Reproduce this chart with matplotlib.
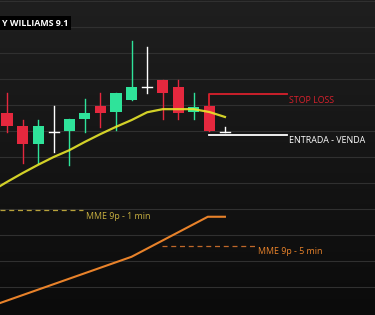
import numpy as np
import matplotlib as mpl
mpl.use('agg')
import matplotlib.pyplot as plt

# candles: open, high, low, close (price units), open == close -> doji
opens  = [133.5, 131.0, 127.5, 129.8, 130.0, 132.3, 134.8, 133.6, 136.0, 138.5, 139.8, 138.5, 133.6, 134.8, 129.8]
highs  = [137.3, 132.1, 132.1, 134.8, 132.3, 136.2, 137.3, 137.3, 147.3, 146.2, 139.8, 139.8, 137.3, 134.8, 130.8]
lows   = [129.8, 123.9, 123.9, 126.0, 123.5, 129.8, 130.8, 130.2, 136.0, 137.3, 132.3, 132.3, 132.3, 130.0, 129.8]
closes = [131.0, 127.5, 131.0, 129.8, 132.3, 133.5, 133.5, 137.3, 138.5, 138.5, 137.3, 133.5, 134.6, 130.0, 129.8]

# MME 9p - 1 min (yellow)
mme1_x = [-0.45, 0, 1, 2, 3, 4, 5, 6, 7, 8, 9, 10, 11, 12, 13, 14]
mme1_y = [119.4, 120.2, 121.9, 123.5, 125.0, 126.3, 127.9, 129.4, 130.8, 132.1, 133.6, 134.2, 134.2, 134.2, 133.65, 132.7]
# MME 9p - 5 min (orange)
mme5_x = [-0.45, 8.0, 12.9, 14.0]
mme5_y = [96.9, 105.8, 113.5, 113.5]

stop_loss = 137.1
entrada = 129.2

GREEN = '#2fe39a'
RED = '#e5283e'
YEL = '#e8e62a'
ORG = '#e8822a'

fig = plt.figure(figsize=(3.75, 3.15), dpi=100)
ax = fig.add_axes([0, 0, 1, 1])
ax.set_xlim(-0.45, 23.64)
ax.set_ylim(94.6, 155.2)
ax.axis('off')

# background gradient
grad = np.linspace(0, 1, 256).reshape(-1, 1)
ax.imshow(grad, extent=[0, 1, 0, 1], transform=ax.transAxes, aspect='auto',
          cmap=mpl.colors.LinearSegmentedColormap.from_list('bg', ['#0b0b0b', '#1f1f1f']),
          origin='lower', zorder=0)

for g in np.arange(100, 156, 5):
    ax.axhline(g, color='#303030', lw=0.8, zorder=1)

for i, (o, h, l, c) in enumerate(zip(opens, highs, lows, closes)):
    if o == c:
        col = 'white'
        ax.plot([i, i], [l, h], color=col, lw=1.0, zorder=3)
        ax.plot([i - 0.32, i + 0.32], [o, o], color=col, lw=1.0, zorder=3)
        continue
    col = GREEN if c > o else RED
    ax.plot([i, i], [l, h], color=col, lw=1.0, zorder=3)
    ax.bar(i, abs(c - o), bottom=min(o, c), width=0.72, color=col, zorder=3)

ax.plot(mme1_x, mme1_y, color=YEL, lw=1.6, zorder=4, alpha=0.9)
ax.plot(mme5_x, mme5_y, color=ORG, lw=1.5, zorder=4)

# legend-like dashed markers
ax.plot([-0.45, 4.9], [114.8, 114.8], color='#b8a23a', lw=0.9, ls=(0, (4, 3)), zorder=2)
ax.text(5.1, 113.6, 'MME 9p - 1 min', color='#c8b040', fontsize=6.4,
        family='Open Sans', va='center', ha='left')
ax.plot([9.95, 16.05], [107.9, 107.9], color='#c0682a', lw=0.9, ls=(0, (4, 3)), zorder=2)
ax.text(16.15, 106.9, 'MME 9p - 5 min', color=ORG, fontsize=6.4,
        family='Open Sans', va='center', ha='left')

# stop loss / entrada
ax.plot([13, 13, 17.98], [opens[13], stop_loss, stop_loss], color='#d8202c', lw=1.3, zorder=4)
ax.text(18.1, stop_loss - 1.3, 'STOP LOSS', color='#d8202c', fontsize=6.4,
        family='Open Sans', va='center', ha='left')
ax.plot([13, 17.98], [entrada, entrada], color='white', lw=1.3, zorder=4)
ax.text(18.1, entrada - 1.1, 'ENTRADA - VENDA', color='white', fontsize=6.4,
        family='Open Sans', va='center', ha='left')

ax.text(0.004, 0.926, 'Y WILLIAMS 9.1', transform=ax.transAxes, color='white',
        fontsize=6.4, fontweight='bold', family='Open Sans', va='center', ha='left',
        bbox=dict(boxstyle='square,pad=0.3', fc='black', ec='none'), zorder=5)

fig.savefig('out.png', dpi=100)
